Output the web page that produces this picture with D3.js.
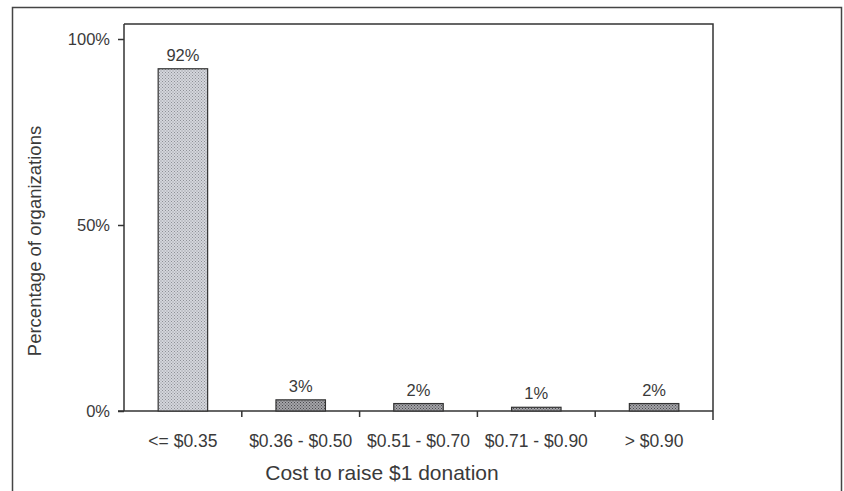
<!DOCTYPE html>
<html>
<head>
<meta charset="utf-8">
<script src="https://cdn.jsdelivr.net/npm/d3@7"></script>
<style>
  body { margin: 0; background: #fff; }
  text { font-family: "Liberation Sans", Arial, sans-serif; fill: #3a3a3a; }
</style>
</head>
<body>
<div id="chart"></div>
<script>
// chart data
var categories = ["<= $0.35", "$0.36 - $0.50", "$0.51 - $0.70", "$0.71 - $0.90", "> $0.90"];
var values = [92, 3, 2, 1, 2];
var valueLabels = ["92%", "3%", "2%", "1%", "2%"];
var yTicks = [0, 50, 100];

var width = 844, height = 491;
var plotLeft = 124, plotRight = 713, plotTop = 24, plotBottom = 411;

var svg = d3.select("#chart").append("svg")
    .attr("width", width)
    .attr("height", height);

// dotted fills like the printed chart
var defs = svg.append("defs");
function dots(id, bg, fg) {
  var p = defs.append("pattern")
      .attr("id", id)
      .attr("width", 3).attr("height", 3)
      .attr("patternUnits", "userSpaceOnUse");
  p.append("rect").attr("width", 3).attr("height", 3).attr("fill", bg);
  p.append("rect").attr("width", 1).attr("height", 1).attr("fill", fg);
  p.append("rect").attr("x", 1.5).attr("y", 1.5).attr("width", 1).attr("height", 1).attr("fill", fg);
}
dots("lightDots", "#d4d6dc", "#8e9096");
dots("darkDots", "#a4a4a8", "#4a4a4e");

// outer frame
svg.append("path")
    .attr("d", "M12.5,500 V7.5 H841.5 V500")
    .attr("fill", "none")
    .attr("stroke", "#444")
    .attr("stroke-width", 1.5);

var x = d3.scaleBand()
    .domain(categories)
    .range([plotLeft, plotRight])
    .paddingInner(0.58)
    .paddingOuter(0.29);

var y = d3.scaleLinear()
    .domain([0, 100])
    .range([plotBottom, 39]);

// plot box top and right
svg.append("path")
    .attr("d", "M" + plotLeft + "," + plotTop + " H" + plotRight + " V" + (plotBottom + 9))
    .attr("fill", "none")
    .attr("stroke", "#333")
    .attr("stroke-width", 1.5);

// y axis
var yAxis = svg.append("g")
    .attr("transform", "translate(" + plotLeft + ",0)")
    .call(d3.axisLeft(y).tickValues(yTicks).tickFormat(function(d) { return d + "%"; }).tickSize(6).tickSizeOuter(0));
yAxis.select(".domain").remove();
yAxis.append("line")
    .attr("y1", plotTop).attr("y2", plotBottom)
    .attr("stroke", "#333").attr("stroke-width", 1.5);
yAxis.selectAll(".tick line").attr("stroke", "#333").attr("stroke-width", 1.5);
yAxis.selectAll(".tick text")
    .attr("x", -14)
    .attr("dy", "0.36em")
    .style("font-size", "16.5px")
    .style("font-family", "Liberation Sans, Arial, sans-serif")
    .attr("fill", "#3a3a3a");

// x axis with ticks between the categories
var xAxis = svg.append("g")
    .attr("transform", "translate(0," + plotBottom + ")");
xAxis.append("line")
    .attr("x1", plotLeft - 6).attr("x2", plotRight)
    .attr("stroke", "#333").attr("stroke-width", 1.5);
var step = x.step();
var bounds = categories.slice(1).map(function(c) { return x(c) - (step - x.bandwidth()) / 2; });
xAxis.selectAll(".sep")
    .data(bounds).enter()
    .append("line")
    .attr("x1", function(d) { return d; })
    .attr("x2", function(d) { return d; })
    .attr("y1", 0).attr("y2", 6)
    .attr("stroke", "#333").attr("stroke-width", 1.5);
xAxis.selectAll(".cat")
    .data(categories).enter()
    .append("text")
    .attr("x", function(d) { return x(d) + x.bandwidth() / 2; })
    .attr("y", 36)
    .attr("text-anchor", "middle")
    .style("font-size", "17.5px")
    .text(function(d) { return d; });

// bars
svg.selectAll(".bar")
    .data(values).enter()
    .append("rect")
    .attr("class", "bar")
    .attr("x", function(d, i) { return x(categories[i]); })
    .attr("y", function(d) { return y(d); })
    .attr("width", x.bandwidth())
    .attr("height", function(d) { return y(0) - y(d); })
    .attr("fill", function(d, i) { return i === 0 ? "url(#lightDots)" : "url(#darkDots)"; })
    .attr("stroke", "#333")
    .attr("stroke-width", 1.2);

// value labels
svg.selectAll(".val")
    .data(values).enter()
    .append("text")
    .attr("x", function(d, i) { return x(categories[i]) + x.bandwidth() / 2; })
    .attr("y", function(d) { return y(d) - 8; })
    .attr("text-anchor", "middle")
    .style("font-size", "16.5px")
    .text(function(d, i) { return valueLabels[i]; });

// axis titles
svg.append("text")
    .attr("x", 382)
    .attr("y", 480)
    .attr("text-anchor", "middle")
    .style("font-size", "21px")
    .text("Cost to raise $1 donation");

svg.append("text")
    .attr("transform", "translate(41,241) rotate(-90)")
    .attr("text-anchor", "middle")
    .style("font-size", "18.5px")
    .text("Percentage of organizations");
</script>
</body>
</html>
